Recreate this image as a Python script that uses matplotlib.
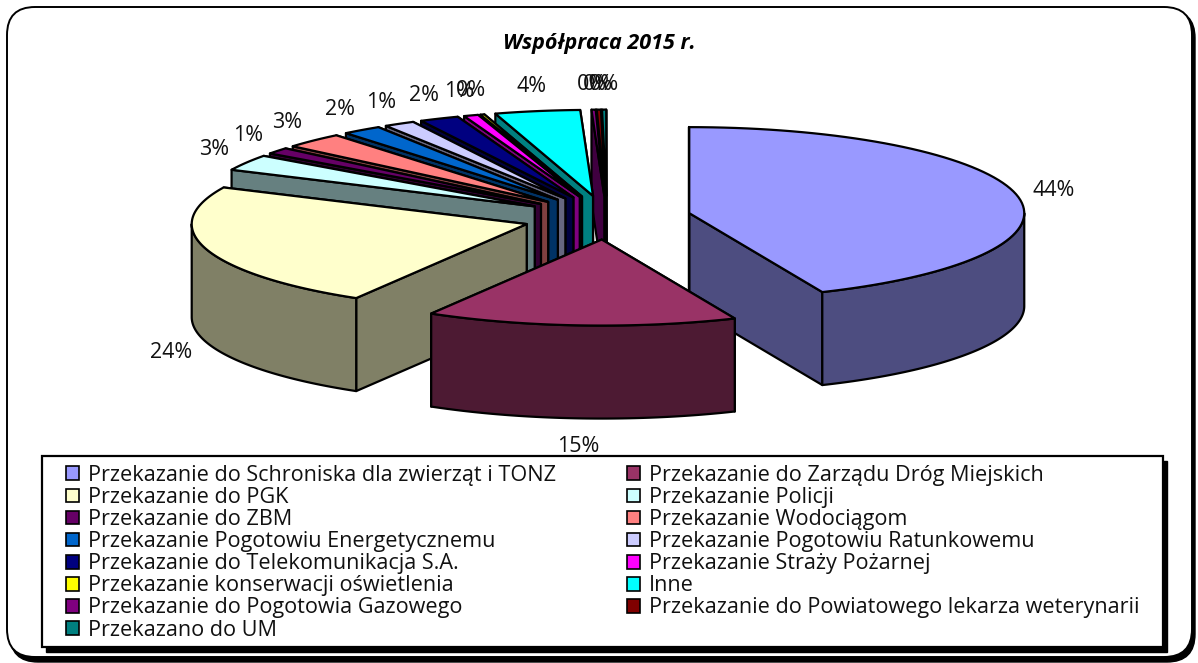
import numpy as np
import matplotlib
matplotlib.use('Agg')
import matplotlib.pyplot as plt
from matplotlib.colors import to_rgb
from matplotlib.patches import FancyBboxPatch, Patch, Polygon, Rectangle

plt.rcParams['font.family'] = ['Open Sans', 'DejaVu Sans']

title = 'Współpraca 2015 r.'
names = [
    'Przekazanie do Schroniska dla zwierząt i TONZ',
    'Przekazanie do Zarządu Dróg Miejskich',
    'Przekazanie do PGK',
    'Przekazanie Policji',
    'Przekazanie do ZBM',
    'Przekazanie Wodociągom',
    'Przekazanie Pogotowiu Energetycznemu',
    'Przekazanie Pogotowiu Ratunkowemu',
    'Przekazanie do Telekomunikacja S.A.',
    'Przekazanie Straży Pożarnej',
    'Przekazanie konserwacji oświetlenia',
    'Inne',
    'Przekazanie do Pogotowia Gazowego',
    'Przekazanie do Powiatowego lekarza weterynarii',
    'Przekazano do UM',
]
values = [43.5, 15.0, 23.5, 3.0, 1.2, 2.9, 1.9, 1.49, 1.9, 0.7, 0.2, 4.1, 0.2, 0.2, 0.2]
colors = ['#9999FF', '#993366', '#FFFFCC', '#CCFFFF', '#660066', '#FF8080', '#0066CC', '#CCCCFF',
          '#000080', '#FF00FF', '#FFFF00', '#00FFFF', '#800080', '#800000', '#008080']

# pie geometry in pixels
CX, CY = 607, 217.6
RX, RY = 335, 86
EXPLODE_X, EXPLODE_Y = 84, 22
DEPTH = 93
LABEL_RX, LABEL_RY = 372, 111
LW = 1.6


def rim(apex, a):
    # a is degrees clockwise from 12 o'clock
    a = np.radians(a)
    return apex[0] + RX * np.sin(a), apex[1] - RY * np.cos(a)


fig = plt.figure(figsize=(11.98, 6.63), dpi=100)
ax = fig.add_axes([0, 0, 1, 1])
ax.set_xlim(0, 1198)
ax.set_ylim(663, 0)
ax.axis('off')

# outer frame with its shadow
ax.add_patch(FancyBboxPatch((10, 10), 1185, 652, boxstyle='round,pad=0,rounding_size=28',
                            fc='black', ec='black', lw=1, clip_on=False))
ax.add_patch(FancyBboxPatch((7, 7), 1185, 650, boxstyle='round,pad=0,rounding_size=28',
                            fc='white', ec='black', lw=1.4))

ends = np.cumsum(values) * 3.6
starts = ends - np.array(values) * 3.6
mids = (starts + ends) / 2

# back slices first, front slice last
for i in np.argsort(-np.cos(np.radians(mids))):
    top = colors[i]
    dark = tuple(c * 0.5 for c in to_rgb(top))
    m = np.radians(mids[i])
    apex = (CX + EXPLODE_X * np.sin(m), CY - EXPLODE_Y * np.cos(m))

    # cut faces
    for a in (ends[i], starts[i]):
        rx, ry = rim(apex, a)
        ax.add_patch(Polygon([apex, (rx, ry), (rx, ry + DEPTH), (apex[0], apex[1] + DEPTH)],
                             fc=dark, ec='black', lw=LW, joinstyle='round', zorder=2))

    # outer wall, only the part facing the viewer
    lo, hi = max(starts[i], 90), min(ends[i], 270)
    if lo < hi:
        t = np.linspace(lo, hi, 80)
        xs, ys = rim(apex, t)
        pts = np.r_[np.c_[xs, ys], np.c_[xs, ys + DEPTH][::-1]]
        ax.add_patch(Polygon(pts, fc=dark, ec='black', lw=LW, joinstyle='round', zorder=2))

    # top
    t = np.linspace(starts[i], ends[i], 80)
    xs, ys = rim(apex, t)
    pts = np.r_[[apex], np.c_[xs, ys]]
    ax.add_patch(Polygon(pts, fc=top, ec='black', lw=LW, joinstyle='round', zorder=2))

    # percent label
    lx = apex[0] + LABEL_RX * np.sin(m)
    ly = apex[1] - LABEL_RY * np.cos(m)
    if np.cos(m) < 0:
        ly += DEPTH + 3
    ax.text(lx, ly, '{:.0f}%'.format(values[i]), ha='center', va='center',
            fontsize=15.5, color='#111111', zorder=5)

ax.text(599, 43, title, ha='center', va='center', fontsize=15.5,
        fontweight='bold', fontstyle='italic', color='black')

# legend box and shadow, then the entries in two columns read row by row
ax.add_patch(Rectangle((46, 461), 1121, 191, fc='black', ec='black', zorder=3))
ax.add_patch(Rectangle((42, 456), 1121, 191, fc='white', ec='black', lw=1.6, zorder=3))
order = list(range(0, len(names), 2)) + list(range(1, len(names), 2))
handles = [Patch(fc=colors[i], ec='black', lw=1.2) for i in order]
labels = [names[i] for i in order]
leg = ax.legend(handles, labels, ncol=2, loc='upper left',
                bbox_to_anchor=(66 / 1198, 1 - 465 / 663), bbox_transform=ax.transAxes,
                fontsize=15.6, frameon=False, borderaxespad=0, borderpad=0,
                labelspacing=0.05, handlelength=0.6, handleheight=0.6,
                handletextpad=0.41, columnspacing=3.27, labelcolor='#111111')
leg.set_zorder(4)

fig.savefig('out.png', dpi=100)
